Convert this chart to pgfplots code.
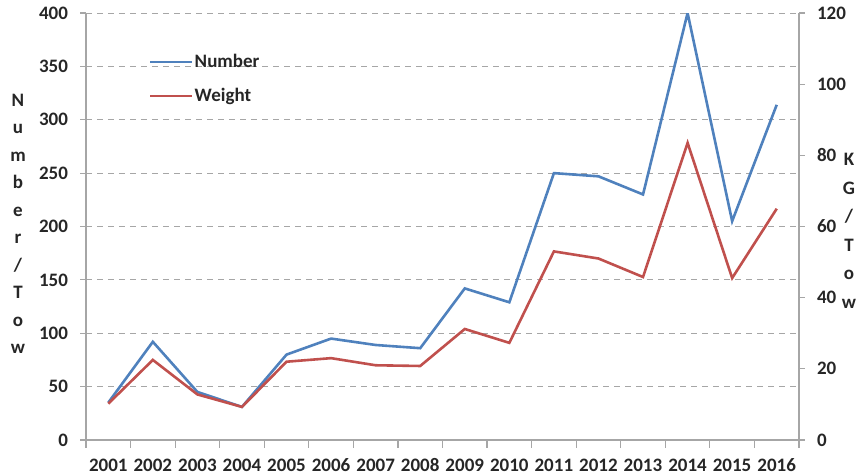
\documentclass[border=0pt]{standalone}
\usepackage{fontspec}
\setmainfont{Carlito}
\usepackage{pgfplots}
\pgfplotsset{compat=1.18}
\definecolor{numblue}{HTML}{4F81BD}
\definecolor{wtred}{HTML}{C0504D}
\definecolor{axgray}{HTML}{A6A6A6}
\definecolor{txt}{HTML}{262626}
\begin{document}
\begin{tikzpicture}
\pgfplotsset{
 base/.style={scale only axis, width=356.5pt, height=213.5pt,
   xmin=2000.5, xmax=2016.5, ymin=0,
   tick label style={font=\bfseries\fontsize{9.5}{11}\selectfont, text=txt},
   /pgf/number format/assume math mode=true,
   /pgf/number format/1000 sep={},
   axis line style={axgray, line width=0.6pt},
   major tick style={axgray, line width=0.6pt},
   minor tick style={axgray, line width=0.6pt},
   tick align=outside, major tick length=3pt, minor tick length=4pt}
}
\begin{axis}[base, ymax=400, ytick={0,50,...,400},
  axis y line*=left, axis x line*=bottom,
  xtick={2001,2002,...,2016}, major x tick style={draw=none},
  minor xtick={2000.5,2001.5,...,2016.5},
  x tick label style={text height=7pt, text depth=0pt, yshift=-2pt},
  y tick label style={xshift=-2.5pt},
  ymajorgrids, grid style={axgray, dash pattern=on 3pt off 2.5pt, line width=0.5pt},
  legend style={draw=none, fill=none, at={(0.088,0.915)}, anchor=north west,
    font=\bfseries\fontsize{9.5}{11}\selectfont, text=txt, row sep=5pt, inner sep=0pt,
    nodes={inner xsep=0.5pt}},
  legend cell align=left,
  legend image code/.code={\draw[#1] (0pt,0pt) -- (21pt,0pt);}]
\addplot[numblue, line width=1.3pt] coordinates {
 (2001,35) (2002,92) (2003,45) (2004,31) (2005,80) (2006,95) (2007,89) (2008,86)
 (2009,142) (2010,129) (2011,250) (2012,247) (2013,230) (2014,400) (2015,205) (2016,314)};
\addlegendentry{Number}
\addlegendimage{wtred, line width=1.3pt}
\addlegendentry{Weight}
\end{axis}
\begin{axis}[base, ymax=120, ytick={0,20,...,120},
  axis y line*=right, axis x line=none, y tick label style={xshift=2.5pt}]
\addplot[wtred, line width=1.3pt] coordinates {
 (2001,10.2) (2002,22.5) (2003,12.8) (2004,9.3) (2005,22) (2006,23) (2007,21) (2008,20.8)
 (2009,31.2) (2010,27.3) (2011,53) (2012,51) (2013,45.8) (2014,83.5) (2015,45.5) (2016,65)};
\end{axis}
\node[align=center, text=txt, font=\bfseries\fontsize{9.5}{13.75}\selectfont] at (-34pt,108pt)
  {N\\u\\m\\b\\e\\r\\/\\T\\o\\w};
\node[align=center, text=txt, font=\bfseries\fontsize{9.5}{14.25}\selectfont] at (381.5pt,104.5pt)
  {K\\G\\/\\T\\o\\w};
\pgfresetboundingbox
\path[use as bounding box] (-43pt,-18pt) rectangle (385.5pt,220pt);
\end{tikzpicture}
\end{document}
